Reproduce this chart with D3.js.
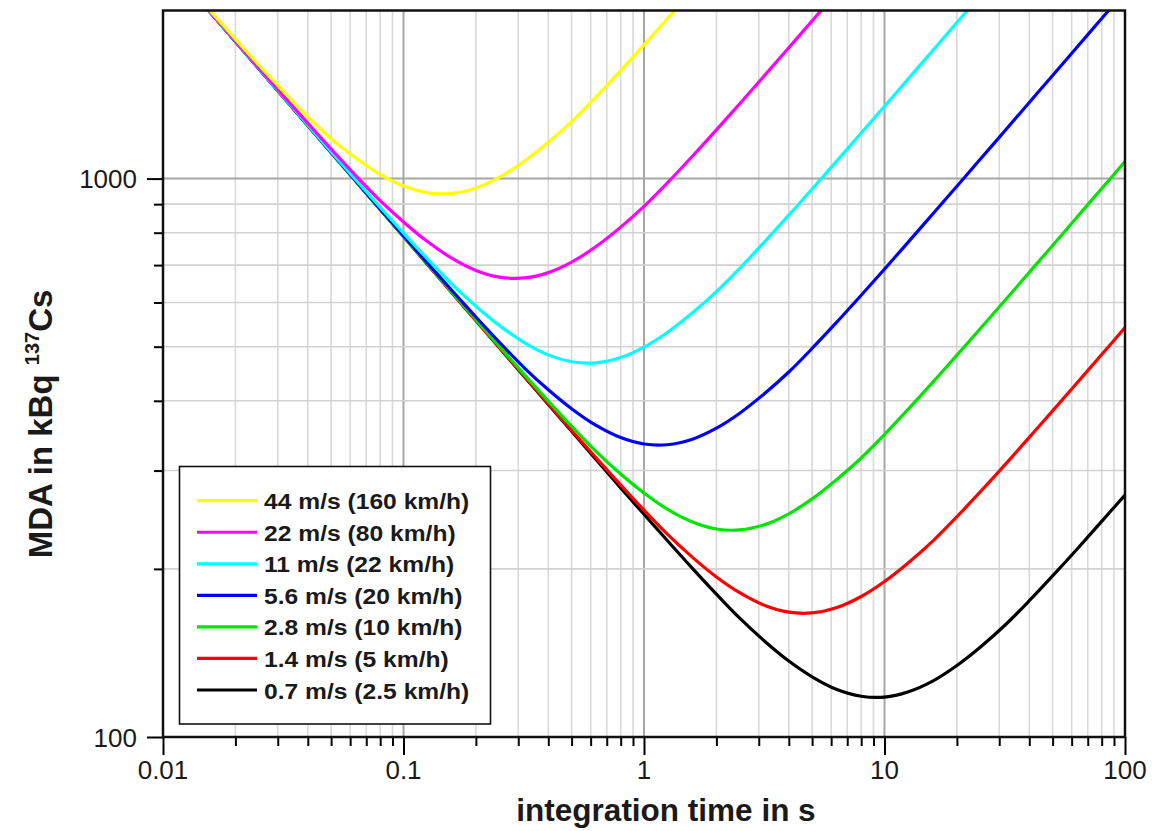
<!DOCTYPE html>
<html>
<head>
<meta charset="utf-8">
<script src="https://cdn.jsdelivr.net/npm/d3@7"></script>
<style>
  html, body { margin: 0; padding: 0; background: #ffffff; }
  svg { display: block; }
  text { font-family: "Liberation Sans", Arial, Helvetica, sans-serif; fill: #1a1a1a; }
</style>
</head>
<body>
<svg id="chart" width="1154" height="831"></svg>
<script>
// ---- data -------------------------------------------------------------
// integration time grid (s), roughly even steps on the log axis
const integrationTimes = [0.0125, 0.016, 0.02, 0.025, 0.032, 0.04, 0.05, 0.063, 0.08, 0.1,
                          0.125, 0.16, 0.2, 0.25, 0.32, 0.4, 0.5, 0.63, 0.8, 1,
                          1.25, 1.6, 2, 2.5, 3.2, 4, 5, 6.3, 8, 10,
                          12.5, 16, 20, 25, 32, 40, 50, 63, 80, 100];

// MDA in kBq 137Cs per vehicle speed, one value per grid time until the curve leaves the plot
const mda44 = [2235.4, 1980.5, 1777.4, 1598.0, 1425.4, 1291.5, 1177.9, 1091.0, 1017.2, 969.7,
               943.7, 940.9, 962.0, 1004.8, 1076.6, 1161.6, 1265.2, 1398.9, 1561.2, 1735.5,
               1933.2, 2181.5];
const mda22 = [2229.2, 1971.5, 1764.8, 1580.6, 1400.3, 1256.7, 1129.9, 1015.0, 913.0, 836.2,
               772.9, 718.7, 684.8, 666.2, 664.0, 678.6, 708.6, 755.1, 818.7, 891.7,
               982.1, 1100.0, 1222.7, 1361.9, 1536.8, 1715.7, 1916.3, 2149.8];
const mda11 = [2227.6, 1969.2, 1761.7, 1576.2, 1394.0, 1247.9, 1117.6, 997.8, 888.5, 798.8,
               720.2, 645.3, 590.9, 546.0, 507.5, 483.4, 469.9, 467.8, 478.1, 499.1,
               530.2, 576.2, 627.5, 690.9, 773.7, 860.0, 957.8, 1072.4, 1206.5, 1347.7,
               1505.8, 1702.9, 1903.4, 2127.8];
const mda56 = [2227.3, 1968.7, 1761.0, 1575.2, 1392.5, 1245.7, 1114.6, 993.5, 882.5, 790.4,
               708.4, 628.5, 565.1, 509.6, 456.9, 418.7, 387.2, 361.7, 343.7, 334.7,
               333.7, 341.8, 357.3, 380.1, 413.5, 450.4, 496.4, 552.0, 618.2, 688.6,
               768.1, 867.6, 969.1, 1082.8, 1224.6, 1368.8, 1530.1, 1717.4, 1935.1, 2163.5];
const mda28 = [2227.2, 1968.5, 1760.7, 1574.9, 1392.1, 1245.2, 1113.8, 992.4, 880.9, 788.1,
               705.3, 624.0, 558.8, 500.9, 444.3, 399.5, 360.2, 325.1, 295.7, 273.4,
               255.8, 242.4, 235.8, 234.9, 240.3, 251.0, 266.9, 288.6, 316.0, 348.1,
               385.6, 433.4, 482.8, 538.5, 608.2, 679.4, 759.1, 851.8, 959.6, 1072.7];
const mda14 = [2227.1, 1968.5, 1760.7, 1574.8, 1392.0, 1245.0, 1113.6, 992.1, 880.5, 787.6,
               704.5, 622.9, 557.3, 498.7, 441.2, 395.2, 354.2, 316.6, 282.6, 254.8,
               230.8, 209.3, 193.5, 181.3, 171.8, 167.3, 166.8, 170.4, 178.5, 189.9,
               204.8, 225.0, 248.0, 274.7, 308.8, 344.0, 383.7, 430.1, 484.1, 540.9];
const mda07 = [2227.1, 1968.5, 1760.7, 1574.8, 1392.0, 1245.0, 1113.6, 992.1, 880.4, 787.4,
               704.3, 622.6, 556.9, 498.2, 440.4, 394.1, 352.7, 314.4, 279.4, 250.5,
               224.8, 199.8, 180.2, 163.2, 148.0, 136.8, 128.2, 121.8, 118.3, 117.9,
               120.4, 126.2, 134.3, 144.8, 159.2, 175.4, 194.3, 216.7, 243.3, 271.3];

const speedLabels = ["44 m/s (160 km/h)", "22 m/s (80 km/h)", "11 m/s (22 km/h)",
                     "5.6 m/s (20 km/h)", "2.8 m/s (10 km/h)", "1.4 m/s (5 km/h)",
                     "0.7 m/s (2.5 km/h)"];
const speedColors = ["#ffff00", "#ff00ff", "#00ffff", "#0000ff", "#00e600", "#ff0000", "#000000"];
const speedValues = [mda44, mda22, mda11, mda56, mda28, mda14, mda07];

const timeTickValues = [0.01, 0.1, 1, 10, 100];
const timeTickLabels = ["0.01", "0.1", "1", "10", "100"];
const mdaTickValues = [100, 1000];
const mdaTickLabels = ["100", "1000"];

// ---- layout -----------------------------------------------------------
const svg = d3.select("#chart");
const plot = { left: 163, right: 1125, top: 10.5, bottom: 737 };

const x = d3.scaleLog().domain([0.01, 100]).range([plot.left, plot.right]);
const y = d3.scaleLog().domain([100, 2000]).range([plot.bottom, plot.top]);

svg.append("rect").attr("width", 1154).attr("height", 831).attr("fill", "#ffffff");

svg.append("defs").append("clipPath").attr("id", "plotClip")
  .append("rect")
  .attr("x", plot.left).attr("y", plot.top)
  .attr("width", plot.right - plot.left).attr("height", plot.bottom - plot.top);

const isMajor = v => Math.abs(Math.log10(v) - Math.round(Math.log10(v))) < 1e-9;

// ---- grid -------------------------------------------------------------
const grid = svg.append("g");
const xGridVals = x.ticks().filter(v => v > 0.01 && v < 100);
const yGridVals = y.ticks().filter(v => v > 100 && v < 2000);

grid.selectAll("line.vx").data(xGridVals).join("line")
  .attr("x1", d => x(d)).attr("x2", d => x(d))
  .attr("y1", plot.top).attr("y2", plot.bottom)
  .attr("stroke", d => isMajor(d) ? "#a6a6a6" : "#d9d9d9")
  .attr("stroke-width", d => isMajor(d) ? 2 : 1.6);

grid.selectAll("line.hy").data(yGridVals).join("line")
  .attr("y1", d => y(d)).attr("y2", d => y(d))
  .attr("x1", plot.left).attr("x2", plot.right)
  .attr("stroke", d => isMajor(d) ? "#a6a6a6" : "#d2d2d2")
  .attr("stroke-width", d => isMajor(d) ? 2 : 1.6);

// ---- axes ticks -------------------------------------------------------
const xMinor = x.ticks().filter(v => !isMajor(v));
const yMinor = y.ticks().filter(v => !isMajor(v) && v < 2000);

function styleAxis(g) {
  g.select(".domain").remove();
  g.selectAll(".tick line").attr("stroke", "#000").attr("stroke-width", 2);
  g.selectAll(".tick text").remove();
}

svg.append("g").attr("transform", `translate(0,${plot.bottom})`)
  .call(d3.axisBottom(x).tickValues(xMinor).tickSize(9).tickFormat(""))
  .call(styleAxis);
svg.append("g").attr("transform", `translate(0,${plot.bottom})`)
  .call(d3.axisBottom(x).tickValues(timeTickValues).tickSize(18).tickFormat(""))
  .call(styleAxis);
svg.append("g").attr("transform", `translate(${plot.left},0)`)
  .call(d3.axisLeft(y).tickValues(yMinor).tickSize(9).tickFormat(""))
  .call(styleAxis);
svg.append("g").attr("transform", `translate(${plot.left},0)`)
  .call(d3.axisLeft(y).tickValues(mdaTickValues).tickSize(16).tickFormat(""))
  .call(styleAxis);

// tick labels
svg.append("g").selectAll("text").data(timeTickValues).join("text")
  .attr("x", d => x(d)).attr("y", 779)
  .attr("text-anchor", "middle")
  .attr("font-size", 26)
  .text((d, i) => timeTickLabels[i]);

svg.append("g").selectAll("text").data(mdaTickValues).join("text")
  .attr("x", 137).attr("y", d => y(d) + 9.5)
  .attr("text-anchor", "end")
  .attr("font-size", 26)
  .text((d, i) => mdaTickLabels[i]);

// ---- curves -----------------------------------------------------------
const line = d3.line()
  .x(d => x(d[0]))
  .y(d => y(d[1]))
  .curve(d3.curveCatmullRom.alpha(0.5));

const curves = svg.append("g").attr("clip-path", "url(#plotClip)");
// slowest speed first so the fast-speed curves sit on top
for (let i = speedValues.length - 1; i >= 0; i--) {
  const pts = speedValues[i].map((v, j) => [integrationTimes[j], v]);
  curves.append("path")
    .attr("d", line(pts))
    .attr("fill", "none")
    .attr("stroke", speedColors[i])
    .attr("stroke-width", 3.2)
    .attr("stroke-linejoin", "round");
}

// ---- frame ------------------------------------------------------------
svg.append("rect")
  .attr("x", plot.left).attr("y", plot.top)
  .attr("width", plot.right - plot.left).attr("height", plot.bottom - plot.top)
  .attr("fill", "none").attr("stroke", "#111").attr("stroke-width", 2.5);

// ---- legend -----------------------------------------------------------
const legend = svg.append("g");
legend.append("rect")
  .attr("x", 179.5).attr("y", 466.5).attr("width", 311).attr("height", 257.5)
  .attr("fill", "#ffffff").attr("stroke", "#111").attr("stroke-width", 1.6);

const rowY = i => 500.7 + i * 31.55;
legend.selectAll("line").data(speedLabels).join("line")
  .attr("x1", 197).attr("x2", 257)
  .attr("y1", (d, i) => rowY(i)).attr("y2", (d, i) => rowY(i))
  .attr("stroke", (d, i) => speedColors[i]).attr("stroke-width", 3.2);

legend.selectAll("text").data(speedLabels).join("text")
  .attr("transform", (d, i) => `translate(264,${rowY(i) + 8.5}) scale(1.12,1)`)
  .attr("font-size", 22).attr("font-weight", "bold")
  .text(d => d);

// ---- axis titles ------------------------------------------------------
svg.append("text")
  .attr("x", 666).attr("y", 821)
  .attr("text-anchor", "middle")
  .attr("font-size", 31.5).attr("font-weight", "bold")
  .text("integration time in s");

const yTitle = svg.append("text")
  .attr("transform", "translate(52,424) rotate(-90)")
  .attr("text-anchor", "middle")
  .attr("font-size", 33).attr("font-weight", "bold");
yTitle.append("tspan").text("MDA in kBq ");
yTitle.append("tspan").attr("font-size", 20).attr("dy", -13).text("137");
yTitle.append("tspan").attr("dy", 13).text("Cs");
</script>
</body>
</html>
